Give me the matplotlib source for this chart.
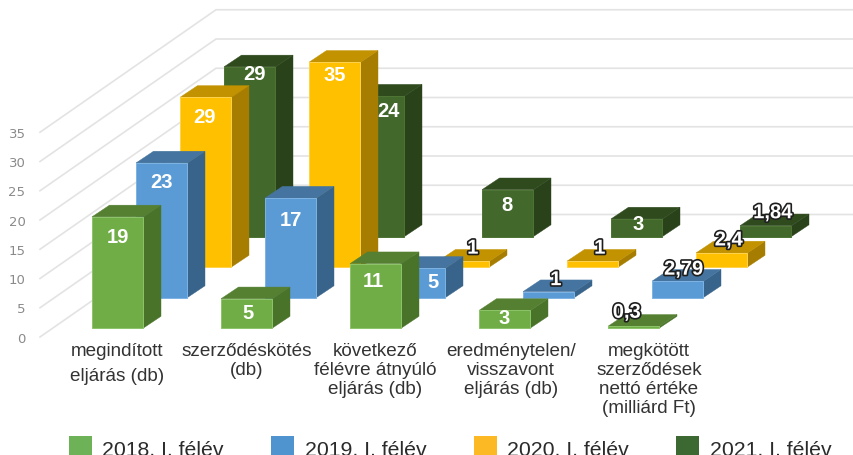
import matplotlib
matplotlib.use("Agg")
import matplotlib.pyplot as plt
import matplotlib.patheffects as pe
from matplotlib.patches import Polygon, Rectangle

categories = ["megindított\neljárás (db)", "szerződéskötés\n(db)",
              "következő\nfélévre átnyúló\neljárás (db)",
              "eredménytelen/\nvisszavont\neljárás (db)",
              "megkötött\nszerződések\nnettó értéke\n(milliárd Ft)"]
series_names = ["2018. I. félév", "2019. I. félév", "2020. I. félév", "2021. I. félév"]
s2018 = [19, 5, 11, 3, 0.3]
s2019 = [23, 17, 5, 1, 2.79]
s2020 = [29, 35, 1, 1, 2.4]
s2021 = [29, 24, 8, 3, 1.84]
series = [s2018, s2019, s2020, s2021]
y_ticks = [0, 5, 10, 15, 20, 25, 30, 35]

# styling (front, top, side)
colors = [("#70AD47", "#558032", "#497329"),
          ("#5B9BD5", "#44749F", "#38638A"),
          ("#FFC000", "#C29200", "#A67D00"),
          ("#43682B", "#2F4B1E", "#2A4219")]
legend_colors = ["#6EB257", "#4F94CE", "#FDB924", "#3C6832"]
edge_light = ["#8CC46A", "#7DB3E3", "#FFD24D", "#4C7432"]

# layout (pixels)
W, H = 854, 456
PX = 5.85            # pixels per value unit
Y0 = 338.0           # pixel row of value 0 at the front edge
X_L, X_B = 40, 216   # front / back x of the slanted grid
SLANT = 122.5
CAT_DX, SER_DX, SER_DY = 129.0, 44.0, 30.5
BAR_X0, BAR_W = 92.0, 51.5
BAR_FRONT = 9.0 / PX
DEPTH_X, DEPTH_Y = 17.5, 11.7 / PX
# label offset from the centre of front face top (px right, px down)
label_off = [[(0, 20), (1, 14), (-2, 17), (-1, 7.5), (-7, -14)],
             [(0, 19), (0, 21), (13, 13), (7, -12), (6, -12)],
             [(-1, 19), (0, 12), (9, -13), (7, -13), (7, -13)],
             [(5, 7), (10, 14), (-1, 15), (1, 5), (7, -13)]]
label_fmt = [["19", "5", "11", "3", "0,3"], ["23", "17", "5", "1", "2,79"],
             ["29", "35", "1", "1", "2,4"], ["29", "24", "8", "3", "1,84"]]
outlined = {(2, 2), (2, 3), (1, 3), (0, 4), (1, 4), (2, 4), (3, 4)}
cat_label_x = [117, 247, 375, 511, 649]
cat_label_sp = [1.6, 1.15, 1.15, 1.15, 1.13]

fig = plt.figure(figsize=(W / 100, H / 100), dpi=100)
ax = fig.add_axes([0, 0, 1, 1])
ax.set_xlim(0, W)
ax.set_ylim((Y0 - H) / PX, Y0 / PX)   # y axis is in value units
ax.axis("off")

# grid
for t in y_ticks:
    ax.plot([X_L, X_B, W], [t, t + SLANT / PX, t + SLANT / PX], color="#E3E3E3", lw=1.2, zorder=1,
            solid_joinstyle="miter")
    ax.text(25.5, t - 0.2, str(t), color="#8A8A8A", fontsize=9.5, family="DejaVu Sans",
            ha="right", va="center", zorder=2)

# bars, back to front
z = 10
for s in range(3, -1, -1):
    front, top, side = colors[s]
    for c, v in enumerate(series[s]):
        x0 = BAR_X0 + c * CAT_DX + s * SER_DX
        x1 = x0 + BAR_W
        yb = BAR_FRONT + s * SER_DY / PX
        yt = yb + v
        ax.add_patch(Polygon([(x1, yb), (x1 + DEPTH_X, yb + DEPTH_Y), (x1 + DEPTH_X, yt + DEPTH_Y), (x1, yt)],
                             closed=True, fc=side, ec=side, lw=0.3, zorder=z))
        ax.add_patch(Polygon([(x0, yt), (x1, yt), (x1 + DEPTH_X, yt + DEPTH_Y), (x0 + DEPTH_X, yt + DEPTH_Y)],
                             closed=True, fc=top, ec=top, lw=0.3, zorder=z))
        ax.add_patch(Rectangle((x0, yb), BAR_W, v, fc=front, ec=edge_light[s], lw=0.7, zorder=z))
        z += 1

# data labels
for s in range(4):
    for c, v in enumerate(series[s]):
        x0 = BAR_X0 + c * CAT_DX + s * SER_DX
        yt = BAR_FRONT + s * SER_DY / PX + v
        dx, dy = label_off[s][c]
        t = ax.text(x0 + BAR_W / 2 + dx, yt - dy / PX, label_fmt[s][c], color="white",
                    fontsize=14.5, fontweight="bold", family="Liberation Sans",
                    ha="center", va="center", zorder=100)
        if (s, c) in outlined:
            t.set_path_effects([pe.withStroke(linewidth=2.4, foreground="#1E1E1E")])

# category labels
for c, lab in enumerate(categories):
    ax.text(cat_label_x[c], (Y0 - 343.5) / PX, lab, color="#333333", fontsize=13.6, family="Liberation Sans",
            ha="center", va="top", multialignment="center", linespacing=cat_label_sp[c], zorder=100)

# legend
for s, name in enumerate(series_names):
    lx = 69 + s * 202.5
    ax.add_patch(Rectangle((lx, (Y0 - 457) / PX), 23, 20 / PX, fc=legend_colors[s], ec="none", zorder=100))
    ax.text(lx + 33.5, (Y0 - 456) / PX, name, color="#2B2B2B", fontsize=15.3, family="Liberation Sans",
            ha="left", va="baseline", zorder=100)

fig.savefig("out.png", dpi=100)
